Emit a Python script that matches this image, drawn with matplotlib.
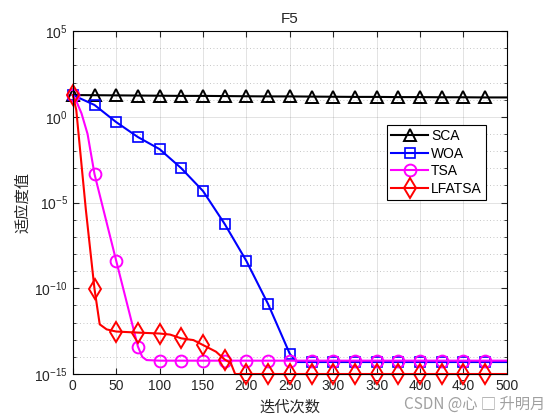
import matplotlib.pyplot as plt
from matplotlib.ticker import FixedLocator, NullFormatter

plt.rcParams['font.family'] = ['Liberation Sans', 'Noto Sans CJK SC', 'DejaVu Sans']
plt.rcParams['mathtext.default'] = 'regular'

# 迭代曲线数据
sca_x = [0, 25, 50, 75, 100, 125, 150, 175, 200, 225, 250, 275, 300, 325, 350, 375, 400, 425, 450, 475, 500]
sca_y = [18.6, 18.2, 17.8, 17.4, 17.0, 16.6, 16.6, 16.2, 15.8, 15.5, 15.5, 15.1, 14.8, 14.5, 14.5,
         14.1, 14.1, 13.8, 13.8, 13.5, 13.5]

woa_x = [0, 25, 50, 75, 100, 125, 150, 175, 200, 225, 250, 258, 275, 300, 325, 350, 375, 400, 425, 450, 475, 500]
woa_y = [18.6, 4.9, 4.9e-1, 6.6e-2, 1.3e-2, 1.0e-3, 4.7e-5, 5.6e-7, 3.9e-9, 1.2e-11, 1.5e-14, 5.0e-15,
         5.0e-15, 5.0e-15, 5.0e-15, 5.0e-15, 5.0e-15, 5.0e-15, 5.0e-15, 5.0e-15, 5.0e-15, 5.0e-15]

tsa_x = [0, 3.5, 10, 17, 25, 50, 75, 80, 85, 100, 125, 150, 175, 200, 225, 250, 275, 300, 325, 350, 375,
         400, 425, 450, 475, 500]
tsa_y = [18.6, 9.5, 1.6, 1.0e-1, 4.6e-4, 4.0e-9, 4.0e-14, 1.0e-14, 6.5e-15, 6.0e-15, 6.0e-15, 6.0e-15,
         6.0e-15, 6.0e-15, 6.0e-15, 6.0e-15, 6.0e-15, 6.0e-15, 6.0e-15, 6.0e-15, 6.0e-15, 6.0e-15,
         6.0e-15, 6.0e-15, 6.0e-15, 6.0e-15]

lfa_x = [0, 4, 11, 15, 25, 31, 39, 50, 75, 100, 112, 125, 139, 150, 165, 175, 182, 187, 200, 225, 250,
         275, 300, 325, 350, 375, 400, 425, 450, 475, 500]
lfa_y = [18.6, 2.5, 5.0e-4, 4.0e-6, 9.1e-11, 7.9e-13, 4.0e-13, 3.0e-13, 2.6e-13, 2.3e-13, 2.0e-13,
         1.2e-13, 9.5e-14, 4.9e-14, 2.0e-14, 7.0e-15, 4.4e-15, 1.0e-15, 1.0e-15, 1.0e-15, 1.0e-15,
         1.0e-15, 1.0e-15, 1.0e-15, 1.0e-15, 1.0e-15, 1.0e-15, 1.0e-15, 1.0e-15, 1.0e-15, 1.0e-15]


def marks(xs):
    return [i for i, v in enumerate(xs) if v % 25 == 0 and v < 500]


fig = plt.figure(figsize=(5.6, 4.2), dpi=100)
ax = fig.add_axes([0.130, 0.1095, 0.775, 0.8165])

ax.plot(sca_x, sca_y, color='k', lw=1.5, marker='^', ms=9, mew=1.4, mfc='none',
        markevery=marks(sca_x), clip_on=False, label='SCA')
ax.plot(woa_x, woa_y, color='#0000ff', lw=1.5, marker='s', ms=7, mew=1.2, mfc='none',
        markevery=marks(woa_x), clip_on=False, label='WOA')
ax.plot(tsa_x, tsa_y, color='#ff00ff', lw=1.5, marker='o', ms=8.5, mew=1.4, mfc='none',
        markevery=marks(tsa_x), clip_on=False, label='TSA')
ax.plot(lfa_x, lfa_y, color='#ff0000', lw=1.5, marker='d', ms=10, mew=1.4, mfc='none',
        markevery=marks(lfa_x), clip_on=False, label='LFATSA')

ax.set_yscale('log')
ax.set_xlim(0, 500)
ax.set_ylim(1e-15, 1e5)
ax.set_xticks(range(0, 501, 50))
ax.yaxis.set_major_locator(FixedLocator([1e-15, 1e-10, 1e-5, 1e0, 1e5]))
ax.yaxis.set_minor_locator(FixedLocator([10.0 ** k for k in range(-15, 6)]))
ax.yaxis.set_minor_formatter(NullFormatter())

ax.grid(True, which='major', color='#262626', alpha=0.15, lw=0.6)
ax.grid(True, which='minor', axis='y', color='#262626', alpha=0.35, lw=0.6, ls=(0, (1, 3)))
ax.tick_params(which='both', direction='in', top=True, right=True, labelsize=10, colors='#262626')
ax.tick_params(which='major', length=4)
ax.tick_params(which='minor', length=2.5)
for s in ax.spines.values():
    s.set_color('k')
    s.set_linewidth(0.8)

ax.set_title('F5', fontsize=11, color='#262626', pad=6)
ax.set_xlabel('迭代次数', fontsize=11, family=['Noto Sans CJK SC'], color='#262626', labelpad=4)
ax.set_ylabel('适应度值', fontsize=11, family=['Noto Sans CJK SC'], color='#262626', labelpad=2)

leg = ax.legend(loc='upper left', bbox_to_anchor=(0.7235, 0.726), fontsize=10, frameon=True,
                fancybox=False, edgecolor='k', framealpha=1, handlelength=2.7,
                labelspacing=0.25, borderpad=0.3, handletextpad=0.2, borderaxespad=0)
leg.get_frame().set_linewidth(0.8)

fig.text(0.973, 0.018, 'CSDN @心 □ 升明月', ha='right', va='bottom', fontsize=11,
         color='#a0a0a0', family=['Noto Sans CJK SC', 'DejaVu Sans'])

fig.savefig('out.png', dpi=100)
